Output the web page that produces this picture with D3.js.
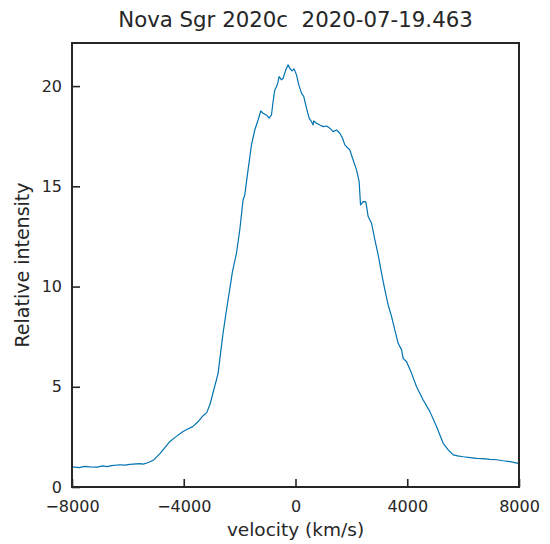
<!DOCTYPE html>
<html>
<head>
<meta charset="utf-8">
<script src="https://cdn.jsdelivr.net/npm/d3@7"></script>
<style>
  body { margin: 0; background: #fff; }
  text { font-family: "DejaVu Sans", sans-serif; fill: #262626; }
</style>
</head>
<body>
<div id="chart"></div>
<script>
// velocity (km/s) and relative intensity
const velocity = [
  -8000, -7727, -7560, -7369, -7100, -6902, -6750, -6580, -6293, -6100, -5935, -5577, -5450, -5290,
  -5076, -4861, -4682, -4503, -4288, -4037, -3858, -3679, -3500, -3320,
  -3177, -3070, -3009, -2927, -2830, -2772, -2676, -2593, -2497, -2414,
  -2318, -2257, -2113, -1995, -1877, -1816, -1698, -1576, -1458, -1340,
  -1243, -1171, -1100, -1017, -946, -860, -802, -741, -681, -634,
  -587, -501, -444, -347, -265, -204, -122, -50, 36, 118,
  215, 297, 394, 487, 573, 630, 656, 752, 810, 870,
  989, 1110, 1229, 1347, 1469, 1587, 1684, 1766, 1884, 1945,
  2042, 2124, 2185, 2278, 2328, 2421, 2518, 2601, 2722, 2841,
  2959, 3081, 3199, 3317, 3439, 3557, 3675, 3797, 3854, 3976,
  4155, 4334, 4571, 4811, 5051, 5287, 5466, 5645, 5800, 6003, 6250, 6483,
  6700, 6960, 7200, 7436, 7675, 7974, 8000
];
const intensity = [
  1.00, 0.97, 1.03, 1.00, 0.99, 1.05, 1.02, 1.07, 1.11, 1.09, 1.13, 1.17, 1.14, 1.21,
  1.35, 1.65, 1.95, 2.26, 2.50, 2.76, 2.89, 3.01, 3.24, 3.54,
  3.71, 4.09, 4.39, 4.84, 5.34, 5.67, 6.74, 7.67, 8.58, 9.33,
  10.18, 10.74, 11.66, 12.82, 14.32, 14.57, 15.82, 17.07, 17.81, 18.31,
  18.76, 18.66, 18.60, 18.53, 18.40, 18.56, 19.23, 19.81, 19.97, 20.16,
  20.47, 20.31, 20.39, 20.81, 21.06, 20.89, 20.76, 20.86, 20.56, 20.06,
  19.65, 19.48, 18.90, 18.40, 18.23, 18.06, 18.26, 18.15, 18.11, 18.06,
  17.98, 18.01, 17.90, 17.73, 17.81, 17.65, 17.40, 17.07, 16.90, 16.82,
  16.40, 16.07, 15.82, 15.23, 14.07, 14.24, 14.22, 13.49, 13.16, 12.33,
  11.58, 10.66, 9.83, 9.08, 8.50, 7.83, 7.17, 6.84, 6.42, 6.25,
  5.67, 5.00, 4.34, 3.76, 3.01, 2.18, 1.85, 1.60, 1.55, 1.51, 1.47, 1.43,
  1.42, 1.38, 1.36, 1.31, 1.27, 1.18, 1.17
];
const xTicks = [-8000, -4000, 0, 4000, 8000];
const yTicks = [0, 5, 10, 15, 20];

const width = 550, height = 544;
const margin = { top: 43, right: 31, bottom: 57, left: 72 };
const innerW = width - margin.left - margin.right;
const innerH = height - margin.top - margin.bottom;

const svg = d3.select('#chart').append('svg')
  .attr('width', width)
  .attr('height', height);

const x = d3.scaleLinear().domain([-8000, 8000]).range([margin.left, margin.left + innerW]);
const y = d3.scaleLinear().domain([0, 22.15]).range([margin.top + innerH, margin.top]);

const points = velocity.map((v, i) => [v, intensity[i]]);

svg.append('path')
  .datum(points)
  .attr('fill', 'none')
  .attr('stroke', '#0173b2')
  .attr('stroke-width', 1.2)
  .attr('stroke-linejoin', 'round')
  .attr('d', d3.line().x(d => x(d[0])).y(d => y(d[1])));

// axes with inward ticks
const xAxis = svg.append('g')
  .attr('transform', `translate(0,${margin.top + innerH})`)
  .call(d3.axisBottom(x).tickValues(xTicks).tickFormat(d3.format('d'))
    .tickSizeInner(-8).tickSizeOuter(0).tickPadding(14));
const yAxis = svg.append('g')
  .attr('transform', `translate(${margin.left},0)`)
  .call(d3.axisLeft(y).tickValues(yTicks).tickFormat(d3.format('d'))
    .tickSizeInner(-8).tickSizeOuter(0).tickPadding(10));

[xAxis, yAxis].forEach(g => {
  g.select('.domain').remove();
  g.selectAll('.tick line').attr('stroke', '#262626').attr('stroke-width', 1.6);
  g.selectAll('.tick text').attr('font-size', 16).attr('fill', '#262626')
    .style('font-family', '"DejaVu Sans", sans-serif');
});

// frame
svg.append('rect')
  .attr('x', margin.left)
  .attr('y', margin.top)
  .attr('width', innerW)
  .attr('height', innerH)
  .attr('fill', 'none')
  .attr('stroke', '#262626')
  .attr('stroke-width', 2);

svg.append('text')
  .attr('x', margin.left + innerW / 2)
  .attr('y', 27)
  .attr('text-anchor', 'middle')
  .attr('font-size', 21.3)
  .style('white-space', 'pre')
  .text('Nova Sgr 2020c  2020-07-19.463');

svg.append('text')
  .attr('x', margin.left + innerW / 2)
  .attr('y', 536)
  .attr('text-anchor', 'middle')
  .attr('font-size', 18.5)
  .text('velocity (km/s)');

svg.append('text')
  .attr('transform', `translate(29,${margin.top + innerH / 2}) rotate(-90)`)
  .attr('text-anchor', 'middle')
  .attr('font-size', 19)
  .text('Relative intensity');
</script>
</body>
</html>
